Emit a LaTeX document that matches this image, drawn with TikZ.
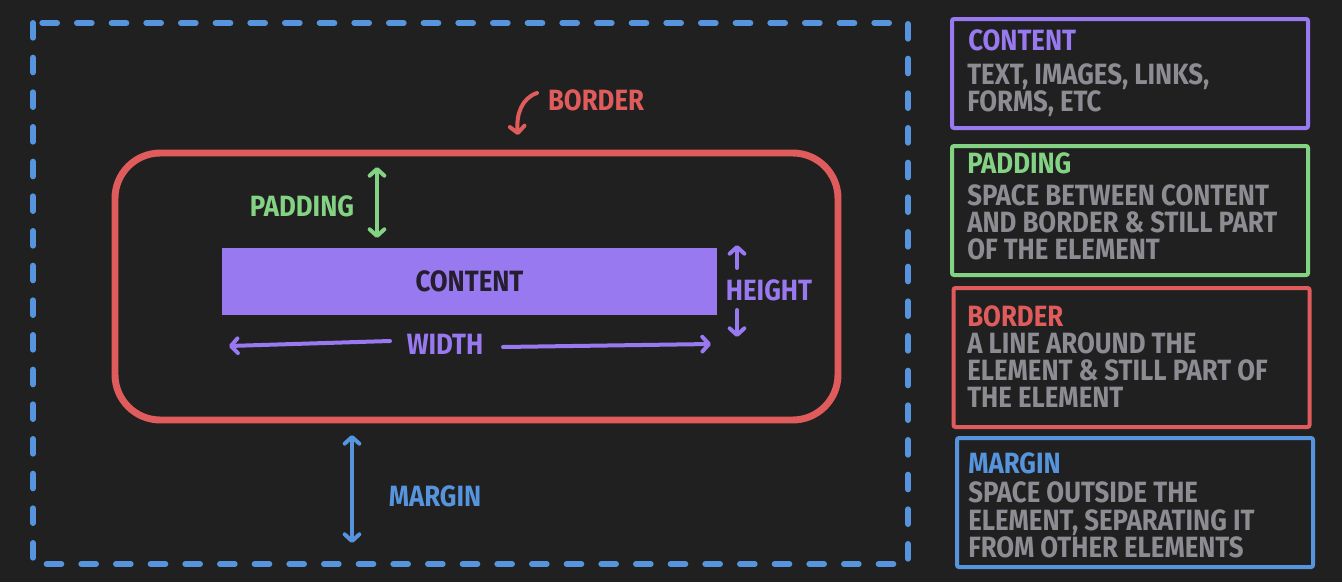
\documentclass[tikz,border=0pt]{standalone}
\usepackage{fontspec}
\newfontfamily\hand[FakeStretch=0.88]{Fira Sans}
\usetikzlibrary{arrows.meta}
\definecolor{bg}{RGB}{32,32,32}
\definecolor{mblue}{RGB}{86,148,222}
\definecolor{bred}{RGB}{224,92,92}
\definecolor{pgreen}{RGB}{132,210,132}
\definecolor{cpurple}{RGB}{152,121,240}
\definecolor{tgrey}{RGB}{140,140,146}
\definecolor{cdark}{RGB}{36,30,46}
\tikzset{hb/.tip={Straight Barb[length=5pt,width=11pt,round]}}
\begin{document}
\begin{tikzpicture}[x=0.75pt,y=-0.75pt,
  lbl/.style={font=\hand\bfseries\fontsize{22}{24}\selectfont, inner sep=0pt},
  body/.style={lbl, text=tgrey, anchor=base west},
  ttl/.style={lbl, anchor=base west},
  arr/.style={line width=3pt, line cap=round, line join=round},
  sidebox/.style={line width=3pt, rounded corners=1.5pt}]
\fill[bg] (0,0) rectangle (1342,582);
\useasboundingbox (0,0) rectangle (1342,582);
% margin dashed rectangle
\draw[mblue, line width=4.5pt, line cap=round, dash pattern=on 11pt off 15pt] (33,23) rectangle (908,564);
% border
\draw[bred, line width=5.2pt, rounded corners=34pt] (115,153) rectangle (838,420);
% content
\node[fill=cpurple, minimum width=371.25pt, minimum height=50.25pt, inner sep=0pt, lbl, text=cdark] (content) at (469.5,281.5) {CONTENT};
% labels
\node[lbl, text=bred] (borderlbl) at (596,100) {BORDER};
\node[lbl, text=pgreen] (padlbl) at (302,206) {PADDING};
\node[lbl, text=cpurple] (heightlbl) at (769,290) {HEIGHT};
\node[lbl, text=cpurple] (widthlbl) at (445,344) {WIDTH};
\node[lbl, text=mblue] (marginlbl) at (435,496) {MARGIN};
% arrow coordinates
\coordinate (bs) at (537,93);
\coordinate (be) at (518,135);
\coordinate (pt) at (377,167);
\coordinate (pb) at (377,238);
\coordinate (hu1) at (737,268);
\coordinate (hu2) at (737,245);
\coordinate (hd1) at (737,310);
\coordinate (hd2) at (737,337);
\coordinate (wl1) at (390,341);
\coordinate (wl2) at (229,346);
\coordinate (wr1) at (503,347);
\coordinate (wr2) at (711,344);
\coordinate (mt) at (352,435);
\coordinate (mb) at (352,543);
% arrows
\draw[arr, bred, -{hb}] (bs) .. controls (522,98) and (516,114) .. (be);
\draw[arr, pgreen, {hb}-{hb}] (pt) -- (pb);
\draw[arr, cpurple, -{hb}] (hu1) -- (hu2);
\draw[arr, cpurple, -{hb}] (hd1) -- (hd2);
\draw[arr, cpurple, -{hb}] (wl1) -- (wl2);
\draw[arr, cpurple, -{hb}] (wr1) -- (wr2);
\draw[arr, mblue, {hb}-{hb}] (mt) -- (mb);
% side boxes
\node[sidebox, draw=cpurple, minimum width=267pt, minimum height=81.75pt, inner sep=0pt] (box1) at (1130,73.5) {};
\node[sidebox, draw=pgreen, minimum width=267pt, minimum height=96.75pt, inner sep=0pt] (box2) at (1130,210.5) {};
\node[sidebox, draw=bred, minimum width=267pt, minimum height=104.25pt, inner sep=0pt] (box3) at (1131.5,357.5) {};
\node[sidebox, draw=mblue, minimum width=267pt, minimum height=96.75pt, inner sep=0pt] (box4) at (1135,502.5) {};
% box texts
\node[ttl, text=cpurple] (t1) at (968,50) {CONTENT};
\node[body] (d1a) at (967,84) {TEXT, IMAGES, LINKS,};
\node[body] (d1b) at (967,111) {FORMS, ETC};
\node[ttl, text=pgreen] (t2) at (967,173) {PADDING};
\node[body] (d2a) at (967,205) {SPACE BETWEEN CONTENT};
\node[body] (d2b) at (967,232) {AND BORDER \& STILL PART};
\node[body] (d2c) at (967,259) {OF THE ELEMENT};
\node[ttl, text=bred] (t3) at (967,326) {BORDER};
\node[body] (d3a) at (967,353) {A LINE AROUND THE};
\node[body] (d3b) at (967,380) {ELEMENT \& STILL PART OF};
\node[body] (d3c) at (967,407) {THE ELEMENT};
\node[ttl, text=mblue] (t4) at (968,473) {MARGIN};
\node[body] (d4a) at (968,502) {SPACE OUTSIDE THE};
\node[body] (d4b) at (968,530) {ELEMENT, SEPARATING IT};
\node[body] (d4c) at (968,557) {FROM OTHER ELEMENTS};
\end{tikzpicture}
\end{document}
